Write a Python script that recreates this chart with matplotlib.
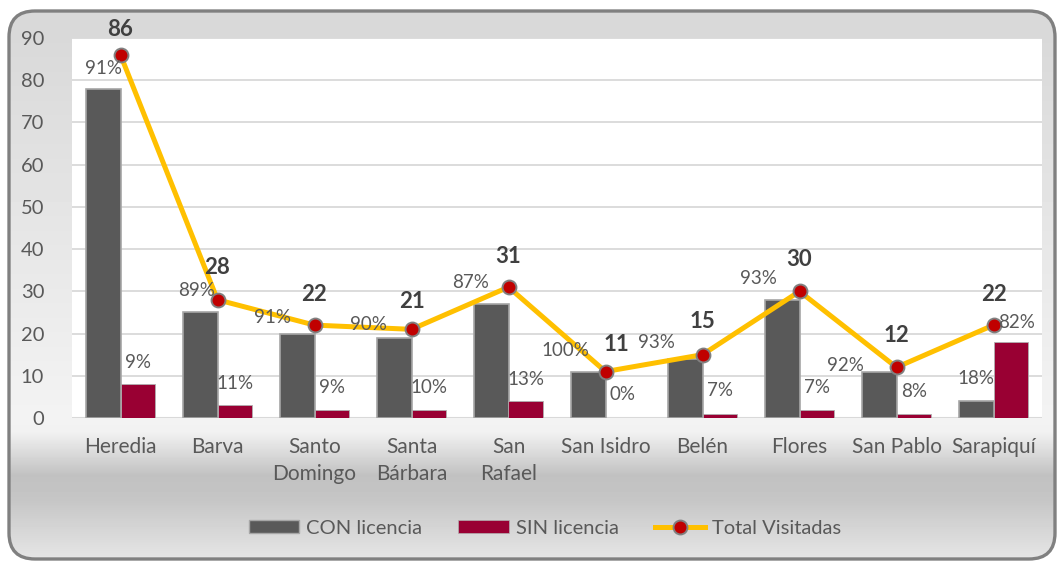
import numpy as np
import matplotlib
matplotlib.use("Agg")
import matplotlib.pyplot as plt
from matplotlib.patches import FancyBboxPatch, Patch
from matplotlib.lines import Line2D

plt.rcParams['font.family'] = ['Lato', 'DejaVu Sans']

cantones = ["Heredia", "Barva", "Santo\nDomingo", "Santa\nBárbara", "San\nRafael",
            "San Isidro", "Belén", "Flores", "San Pablo", "Sarapiquí"]
con_licencia = [78, 25, 20, 19, 27, 11, 14, 28, 11, 4]
sin_licencia = [8, 3, 2, 2, 4, 0, 1, 2, 1, 18]
total_visitadas = [86, 28, 22, 21, 31, 11, 15, 30, 12, 22]
pct_con = ["91%", "89%", "91%", "90%", "87%", "100%", "93%", "93%", "92%", "18%"]
pct_sin = ["9%", "11%", "9%", "10%", "13%", "0%", "7%", "7%", "8%", "82%"]

# label nudges in pixels (hand placed in the original)
con_dx = [0, -3, -25, -26, -20, -23, -29, -24, -34, 0]
con_dy = [20, 22, 16, 13, 21, 21, 16, 21, 6, 23]
sin_dx = [0, 0, 0, 0, 0, 0, 0, 0, 0, 6]
sin_dy = [22, 22, 22, 22, 22, 23, 23, 22, 22, 20]
tot_dx = [0, 0, 0, 0, 0, 11, 0, 0, 0, 0]
tot_dy = [25, 32, 31, 28, 31, 27, 33, 32, 32, 31]

W, H = 1063, 563
fig = plt.figure(figsize=(W / 100, H / 100), dpi=100)
fig.patch.set_facecolor('white')

# background panel with gradient
bg = fig.add_axes([0, 0, 1, 1])
bg.set_xlim(0, W)
bg.set_ylim(H, 0)
bg.axis('off')
rows = np.arange(H)
prof = np.interp(rows, [0, 40, 418, 432, 475, 500, 563],
                 [217, 217, 243, 241, 193, 198, 232]) / 255.0
img = np.repeat(prof[:, None], W, axis=1)
panel = FancyBboxPatch((9, 11), 1046, 548, boxstyle="round,pad=0,rounding_size=26",
                       fc='none', ec='#808080', lw=2.4, zorder=3)
bg.add_patch(panel)
im = bg.imshow(img, cmap='gray', vmin=0, vmax=1, extent=(0, W, H, 0), aspect='auto', zorder=1)
im.set_clip_path(panel)

ax = fig.add_axes([72 / W, (H - 418) / H, 970 / W, 380 / H])
ax.set_facecolor('white')
x = np.arange(len(cantones))
bw = 0.36
ax.bar(x - bw / 2, con_licencia, bw, color='#595959', edgecolor='#a6a6a6', linewidth=1.2, zorder=3)
ax.bar(x + bw / 2, sin_licencia, bw, color='#990033', edgecolor='#b0b0b0', linewidth=0.6, zorder=3)
ax.plot(x, total_visitadas, color='#FFC000', lw=3.6, marker='o', ms=10,
        mfc='#C00000', mec='#808080', mew=1.4, zorder=5, clip_on=False)

for i in range(len(x)):
    ax.annotate(pct_con[i], (x[i] - bw / 2, con_licencia[i]), xytext=(con_dx[i], con_dy[i]),
                textcoords='offset pixels', ha='center', va='center', fontsize=13.5,
                color='#595959', zorder=6)
    ax.annotate(pct_sin[i], (x[i] + bw / 2, sin_licencia[i]), xytext=(sin_dx[i], sin_dy[i]),
                textcoords='offset pixels', ha='center', va='center', fontsize=13.5,
                color='#595959', zorder=6)
    ax.annotate(str(total_visitadas[i]), (x[i], total_visitadas[i]), xytext=(tot_dx[i], tot_dy[i]),
                textcoords='offset pixels', ha='center', va='center', fontsize=16,
                fontweight='bold', color='#404040', zorder=6, annotation_clip=False)

ax.set_xlim(-0.5, len(x) - 0.5)
ax.set_ylim(0, 90)
ax.set_yticks(range(0, 91, 10))
ax.set_xticks(x)
ax.set_xticklabels(cantones, linespacing=1.4)
ax.tick_params(axis='y', length=0, pad=20, labelsize=14.5, labelcolor='#595959')
ax.tick_params(axis='x', length=0, pad=14, labelsize=15, labelcolor='#595959')
ax.grid(axis='y', color='#d9d9d9', lw=1.3, zorder=0)
ax.set_axisbelow(True)
for s in ax.spines.values():
    s.set_visible(False)
ax.axhline(0, color='#d9d9d9', lw=1.5, zorder=2)

handles = [Patch(fc='#595959', ec='#a6a6a6', lw=1),
           Patch(fc='#990033', ec='#b0b0b0', lw=0.5),
           Line2D([], [], color='#FFC000', lw=3.6, marker='o', ms=10, mfc='#C00000',
                  mec='#808080', mew=1.4)]
leg = fig.legend(handles, ["CON licencia", "SIN licencia", "Total Visitadas"],
                 loc='center', bbox_to_anchor=(545 / W, 1 - 528 / H), ncol=3, frameon=False,
                 fontsize=14.5, handlelength=2.5, handleheight=0.62, handletextpad=0.35,
                 columnspacing=1.8, labelcolor='#595959')

fig.savefig("out.png", dpi=100)
